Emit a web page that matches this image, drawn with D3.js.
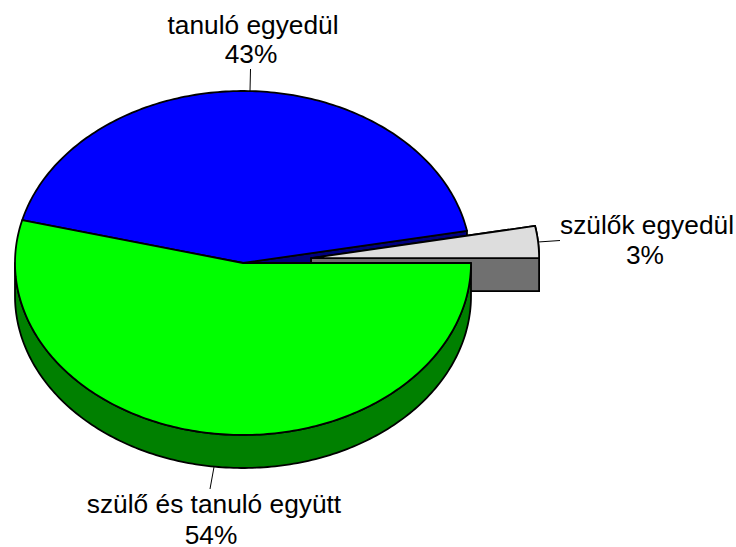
<!DOCTYPE html>
<html><head><meta charset="utf-8">
<script src="https://cdnjs.cloudflare.com/ajax/libs/d3/7.8.5/d3.min.js"></script>
<style>html,body{margin:0;padding:0;background:#fff}svg{display:block}text{font-family:"Liberation Sans",Arial,sans-serif;font-size:26.3px;fill:#000;text-anchor:middle}</style>
</head><body><svg id="c" width="736" height="547"></svg>
<script>
const categories = ["szülő és tanuló együtt", "tanuló egyedül", "szülők egyedül"];
const values = [54, 43, 3];
const percentLabels = ["54%", "43%", "3%"];
const explode = [0, 0, 0.3];
const topColors = ["#00ff00", "#0000ff", "#dddddd"];
const sideColors = ["#008000", "#000080", "#707070"];

const svg = d3.select("#c");
const cx = 243, cy = 263, rx = 228, ry = 172, depth = 33;
const sx = d3.scaleLinear().domain([-1, 1]).range([cx - rx, cx + rx]);
const sy = d3.scaleLinear().domain([-1, 1]).range([cy - ry, cy + ry]);
const arcs = d3.pie().sort(null).value(d => d).startAngle(Math.PI / 2).endAngle(Math.PI * 2.5)(values);
const line = d3.line();
const off = (d, i) => {
  const m = (d.startAngle + d.endAngle) / 2;
  return [explode[i] * Math.sin(m), -explode[i] * Math.cos(m)];
};
const pt = (a, o, dz = 0) => [sx(Math.sin(a) + o[0]), sy(-Math.cos(a) + o[1]) + dz];
const arcPts = (a0, a1, o, dz = 0) => {
  const n = Math.max(2, Math.ceil((a1 - a0) * 60));
  return d3.range(n + 1).map(k => pt(a0 + (a1 - a0) * k / n, o, dz));
};
const center = (o, dz = 0) => [sx(o[0]), sy(o[1]) + dz];
const draw = (pts, fill) => svg.append("path")
  .attr("d", line(pts) + "Z").attr("fill", fill)
  .attr("stroke", "#000").attr("stroke-width", 1.8).attr("stroke-linejoin", "round");
const topFace = i => {
  const d = arcs[i], o = off(d, i);
  draw([center(o), ...arcPts(d.startAngle, d.endAngle, o)], topColors[i]);
};
const outerWall = (i, a0, a1) => {
  const o = off(arcs[i], i);
  draw([...arcPts(a0, a1, o), ...arcPts(a0, a1, o, depth).reverse()], sideColors[i]);
};
const cutWall = (i, a) => {
  const o = off(arcs[i], i);
  draw([center(o), pt(a, o), pt(a, o, depth), center(o, depth)], sideColors[i]);
};

// back to front
cutWall(1, arcs[1].endAngle);
cutWall(2, arcs[2].startAngle);
outerWall(2, arcs[2].startAngle + 0, Math.PI * 2.5);
cutWall(2, Math.PI * 2.5);
topFace(2);
outerWall(0, Math.PI / 2, Math.PI * 1.5);
topFace(1);
topFace(0);

// leader lines and labels
const labelAt = [[1, 253, 34, 251, 63, [250.5, 69], [250, 91]],
                 [2, 647, 233.5, 645, 264, [560, 240.5], [538, 242]],
                 [0, 214, 513, 211, 543.5, [210, 489], [214, 467]]];
labelAt.forEach(([i, x1, y1, x2, y2, p, q]) => {
  svg.append("path").attr("d", line([p, q])).attr("stroke", "#000").attr("stroke-width", 1).attr("fill", "none");
  svg.append("text").attr("x", x1).attr("y", y1).text(categories[i]);
  svg.append("text").attr("x", x2).attr("y", y2).text(percentLabels[i]);
});
</script></body></html>
